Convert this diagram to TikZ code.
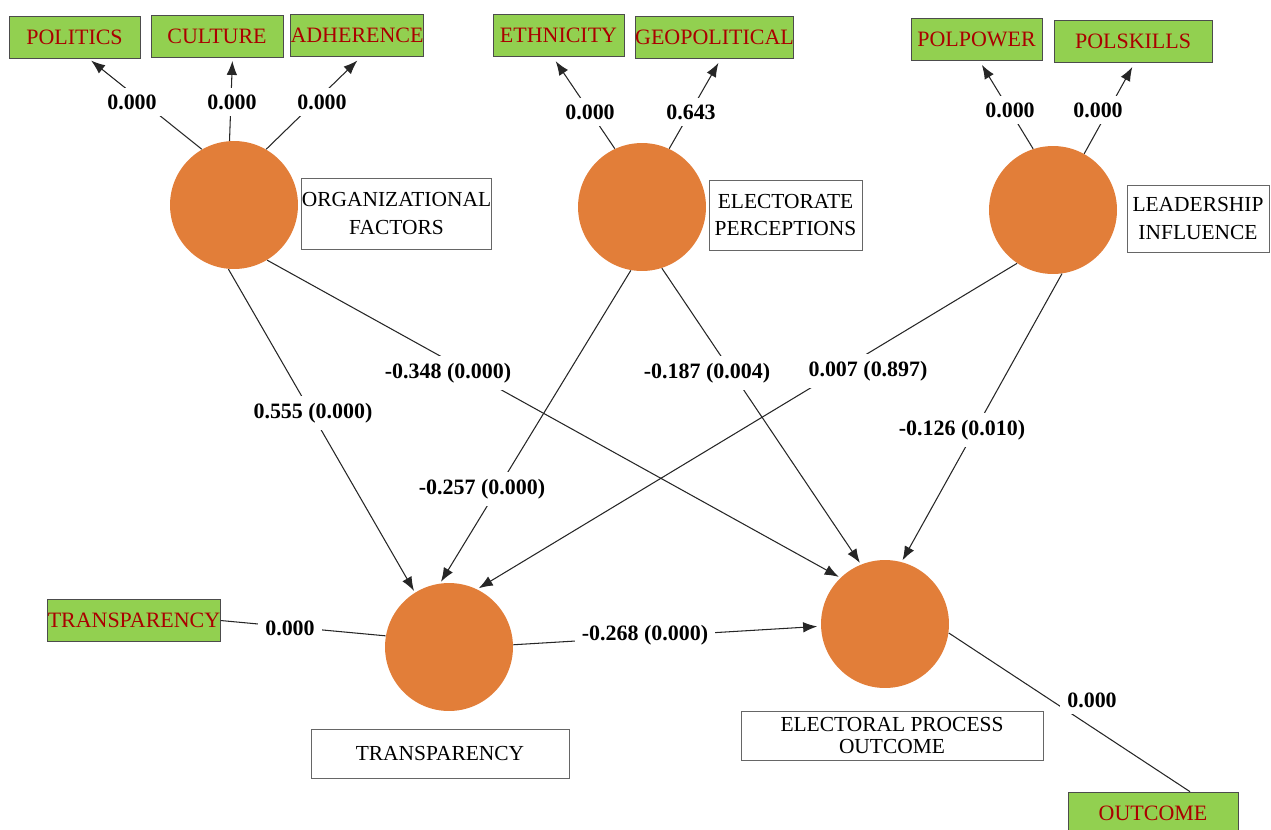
\documentclass[tikz,border=0pt]{standalone}
\usepackage{fontspec}
\setmainfont{Liberation Serif}
\usetikzlibrary{calc,shapes,positioning,arrows.meta}
\definecolor{latcol}{RGB}{226,126,57}
\definecolor{indcol}{RGB}{146,208,80}
\definecolor{indtxt}{RGB}{170,0,0}
\tikzset{
  latent/.style={circle,fill=latcol,minimum size=2.56cm,inner sep=0pt},
  indic/.style={draw=black!70,fill=indcol,text=indtxt,minimum height=0.84cm,inner sep=0pt,font=\fontsize{12.5}{14}\selectfont},
  latname/.style={draw=black!60,fill=white,align=center,inner sep=0pt,font=\fontsize{12.2}{15.5}\selectfont},
  coef/.style={fill=white,inner sep=4pt,font=\bfseries\fontsize{12.5}{14}\selectfont},
  link/.style={draw=black!85,line width=0.6pt},
  >={Latex[length=8pt,width=6pt]}
}

\begin{document}
\begin{tikzpicture}[x=0.02cm,y=-0.02cm]
    \useasboundingbox (0,0) rectangle (1271,829);
    % latent variables
    \node[latent] (org) at (234,205) {};
    \node[latent] (elect) at (642,207) {};
    \node[latent] (lead) at (1053,210) {};
    \node[latent] (transp) at (449,647) {};
    \node[latent] (outc) at (885,624) {};
    \node[latname,minimum width=3.78cm,minimum height=1.42cm] (orgname) at (396.5,213.5) {ORGANIZATIONAL\\FACTORS};
    \node[latname,minimum width=3.06cm,minimum height=1.40cm] (electname) at (785.5,215) {ELECTORATE\\PERCEPTIONS};
    \node[latname,minimum width=2.84cm,minimum height=1.34cm] (leadname) at (1198,218.5) {LEADERSHIP\\INFLUENCE};
    \node[latname,minimum width=5.16cm,minimum height=0.98cm] (transpname) at (440,753.5) {TRANSPARENCY};
    \node[latname,minimum width=6.04cm,minimum height=0.98cm,font=\fontsize{12.2}{12.5}\selectfont] (outcname) at (892,735.5) {ELECTORAL PROCESS\\OUTCOME};
    % indicators
    \node[indic,minimum width=2.62cm] (politics) at (74.5,37) {POLITICS};
    \node[indic,minimum width=2.64cm] (culture) at (217,36) {CULTURE};
    \node[indic,minimum width=2.64cm] (adherence) at (357,35.5) {ADHERENCE};
    \node[indic,minimum width=2.62cm] (ethnicity) at (558.5,35.5) {ETHNICITY};
    \node[indic,minimum width=3.14cm] (geopol) at (714.5,37) {GEOPOLITICAL};
    \node[indic,minimum width=2.62cm] (polpower) at (976.5,39) {POLPOWER};
    \node[indic,minimum width=3.16cm] (polskills) at (1133,41) {POLSKILLS};
    \node[indic,minimum width=3.44cm] (transpind) at (134,620.5) {TRANSPARENCY};
    \node[indic,minimum width=3.40cm] (outcind) at (1153,813) {OUTCOME};
    % outer model
    \draw[link,->,shorten >=2pt] (org.120) -- (politics.-57);
    \draw[link,->,shorten >=2pt] (org.94) -- (culture.-54);
    \draw[link,->,shorten >=3pt] (org.60) -- (adherence.-79);
    \draw[link,->,shorten >=3pt] (elect.115) -- (ethnicity.-105);
    \draw[link,->,shorten >=3pt] (elect.65) -- (geopol.-73);
    \draw[link,->,shorten >=3pt] (lead.108) -- (polpower.-83);
    \draw[link,->,shorten >=3pt] (lead.61) -- (polskills.-85);
    \draw[link] (transpind.east) -- (transp.170);
    \draw[link] (outc.-8) -- (outcind.30);
    % inner model
    \draw[link,->,shorten >=1pt] (org.-95) -- (transp.122);
    \draw[link,->,shorten >=1pt] (org.-59) -- (outc.134);
    \draw[link,->,shorten >=1pt] (elect.-100) -- (transp.98);
    \draw[link,->,shorten >=1pt] (elect.-72) -- (outc.112);
    \draw[link,->,shorten >=1pt] (lead.-124) -- (transp.64);
    \draw[link,->,shorten >=1pt] (lead.-82) -- (outc.75);
    \draw[link,->,shorten >=2pt] (transp.2) -- (outc.182);
    % coefficients
    \node[coef] (c1) at (132,102) {0.000};
    \node[coef] (c2) at (232,102) {0.000};
    \node[coef] (c3) at (322,102) {0.000};
    \node[coef] (c4) at (590,112) {0.000};
    \node[coef] (c5) at (691,112) {0.643};
    \node[coef] (c6) at (1010,110) {0.000};
    \node[coef] (c7) at (1098,110) {0.000};
    \node[coef] (c8) at (290,628) {0.000};
    \node[coef] (c9) at (1092,700) {0.000};
    \node[coef] (p1) at (313,413) {0.555 (0.000)};
    \node[coef] (p2) at (448,373) {-0.348 (0.000)};
    \node[coef] (p3) at (482,489) {-0.257 (0.000)};
    \node[coef] (p4) at (707,373) {-0.187 (0.004)};
    \node[coef] (p5) at (868,371) {0.007 (0.897)};
    \node[coef] (p6) at (962,430) {-0.126 (0.010)};
    \node[coef] (p7) at (645,635) {-0.268 (0.000)};
\end{tikzpicture}
\end{document}
